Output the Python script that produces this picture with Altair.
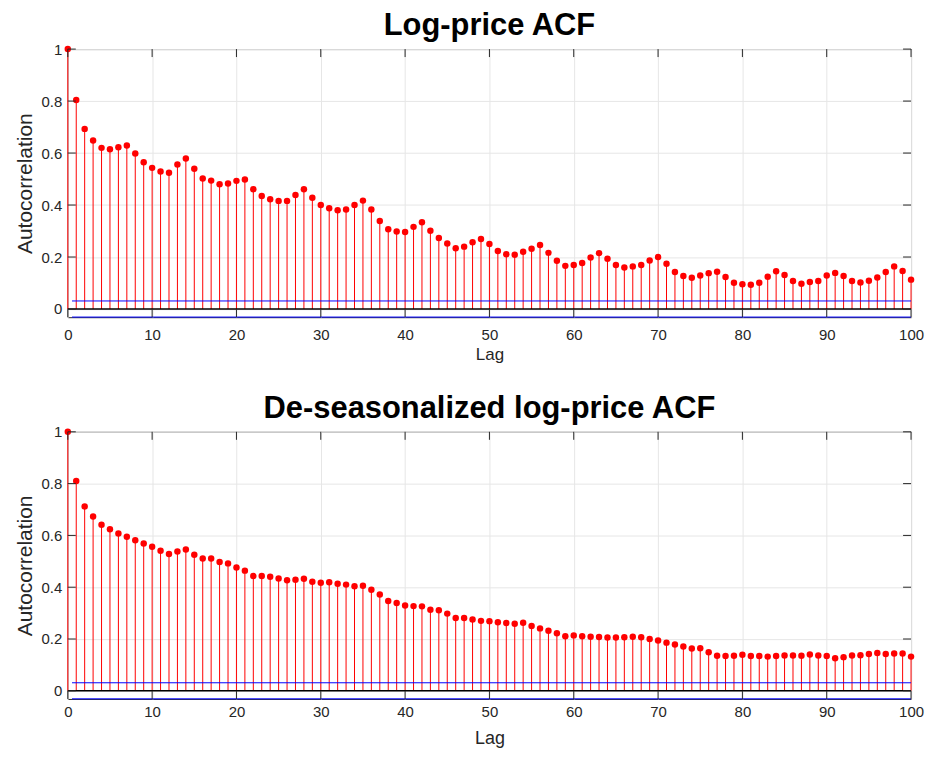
import altair as alt
import pandas as pd

lags = list(range(101))

acf_log = [
    1.000, 0.804, 0.693, 0.648, 0.620, 0.615, 0.622, 0.629, 0.598, 0.565,
    0.543, 0.529, 0.524, 0.556, 0.579, 0.540, 0.502, 0.494, 0.480, 0.483,
    0.493, 0.498, 0.461, 0.435, 0.422, 0.416, 0.416, 0.439, 0.461, 0.428,
    0.400, 0.388, 0.380, 0.383, 0.400, 0.417, 0.383, 0.339, 0.307, 0.298,
    0.296, 0.316, 0.334, 0.301, 0.273, 0.252, 0.234, 0.240, 0.257, 0.269,
    0.250, 0.223, 0.211, 0.209, 0.220, 0.232, 0.246, 0.216, 0.186, 0.166,
    0.169, 0.177, 0.198, 0.215, 0.193, 0.169, 0.160, 0.164, 0.169, 0.187,
    0.200, 0.174, 0.142, 0.127, 0.120, 0.129, 0.138, 0.143, 0.123, 0.101,
    0.095, 0.093, 0.101, 0.124, 0.145, 0.131, 0.108, 0.097, 0.104, 0.108,
    0.129, 0.139, 0.127, 0.108, 0.102, 0.109, 0.121, 0.142, 0.164, 0.146,
    0.113,
]

acf_deseason = [
    1.000, 0.810, 0.712, 0.673, 0.641, 0.624, 0.607, 0.595, 0.581, 0.569,
    0.556, 0.541, 0.528, 0.538, 0.546, 0.525, 0.511, 0.511, 0.497, 0.492,
    0.476, 0.464, 0.443, 0.443, 0.440, 0.434, 0.427, 0.429, 0.433, 0.421,
    0.417, 0.419, 0.413, 0.410, 0.404, 0.406, 0.390, 0.372, 0.347, 0.339,
    0.329, 0.327, 0.326, 0.313, 0.311, 0.298, 0.281, 0.281, 0.275, 0.270,
    0.269, 0.265, 0.262, 0.259, 0.263, 0.250, 0.241, 0.232, 0.222, 0.211,
    0.214, 0.211, 0.209, 0.208, 0.206, 0.206, 0.207, 0.209, 0.207, 0.200,
    0.194, 0.186, 0.179, 0.171, 0.163, 0.164, 0.149, 0.135, 0.134, 0.135,
    0.139, 0.134, 0.134, 0.132, 0.134, 0.136, 0.136, 0.135, 0.140, 0.136,
    0.134, 0.126, 0.130, 0.136, 0.137, 0.142, 0.146, 0.142, 0.144, 0.144,
    0.132,
]

x_ticks = list(range(0, 101, 10))
y_ticks = [0, 0.2, 0.4, 0.6, 0.8, 1.0]
conf_bounds = [0.031, -0.031]
conf_range = [0.5, 100]
x_range = [0, 100]
y_range = [-0.0315, 1.0]

titles = ["Log-price ACF", "De-seasonalized log-price ACF"]
y_title = "Autocorrelation"
x_title = "Lag"

FONT = "Liberation Sans"
INK = "#262626"
W = 846
TICK = 8


def panel(values, title, height, lag_size, lab_pad, title_pad):
    df = pd.DataFrame({"lag": lags, "acf": values})
    xt = pd.DataFrame({"t": x_ticks})
    yt = pd.DataFrame({"t": y_ticks})
    cb = pd.DataFrame({"b": conf_bounds})

    xs = alt.Scale(domain=x_range, nice=False, zero=False)
    ys = alt.Scale(domain=y_range, nice=False, zero=False)

    x_axis = alt.Axis(values=x_ticks, title=x_title, titleFontSize=lag_size,
                      labelPadding=lab_pad, titlePadding=title_pad, labelFlush=False)
    y_axis = alt.Axis(values=y_ticks, title=y_title, titleFontSize=21,
                      labelPadding=6, titlePadding=6, labelFlush=False,
                      format="~g")

    stems = alt.Chart(df).mark_rule(color="#ff0000", strokeWidth=1).encode(
        x=alt.X("lag:Q", scale=xs, axis=x_axis),
        y=alt.Y("acf:Q", scale=ys, axis=y_axis),
        y2=alt.datum(0),
    )
    conf = alt.Chart(cb).mark_rule(color="#0000ff", strokeWidth=1).encode(
        x=alt.datum(conf_range[0]),
        x2=alt.datum(conf_range[1]),
        y=alt.Y("b:Q"),
    )
    base = alt.Chart(cb.head(1)).mark_rule(color="black", strokeWidth=1.5).encode(
        x=alt.datum(x_range[0]),
        x2=alt.datum(x_range[1]),
        y=alt.datum(0),
    )
    dots = alt.Chart(df).mark_point(filled=True, color="#ff0000", size=42, opacity=1).encode(
        x="lag:Q",
        y="acf:Q",
    )
    tick_style = dict(color=INK, strokeWidth=1)
    xt_bot = alt.Chart(xt).mark_rule(**tick_style).encode(
        x="t:Q", y=alt.value(height), y2=alt.value(height - TICK))
    xt_top = alt.Chart(xt).mark_rule(**tick_style).encode(
        x="t:Q", y=alt.value(0), y2=alt.value(TICK))
    yt_left = alt.Chart(yt).mark_rule(**tick_style).encode(
        y="t:Q", x=alt.value(0), x2=alt.value(TICK))
    yt_right = alt.Chart(yt).mark_rule(**tick_style).encode(
        y="t:Q", x=alt.value(W), x2=alt.value(W - TICK))

    return alt.layer(
        stems, conf, base, dots, xt_bot, xt_top, yt_left, yt_right
    ).properties(
        width=W,
        height=height,
        title=alt.TitleParams(title, fontSize=31, fontWeight="bold", font=FONT,
                              color="black", offset=0, anchor="middle", frame="group"),
    )


top = panel(acf_log, titles[0], 269, 17, 10, 4)
bottom = panel(acf_deseason, titles[1], 268, 18, 6, 10)

chart = alt.vconcat(top, bottom, spacing=29).properties(
    padding={"left": 5, "top": 0, "right": 0, "bottom": 0}
).configure_axis(
    labelFont=FONT, titleFont=FONT, labelColor=INK, titleColor=INK,
    labelFontSize=15, titleFontWeight="normal", gridColor="#e6e6e6",
    grid=True, domain=False, ticks=False, tickSize=0,
).configure_view(
    stroke=INK, strokeWidth=1,
)

chart.save("out.html", embed_options={"renderer": "svg", "actions": False})
